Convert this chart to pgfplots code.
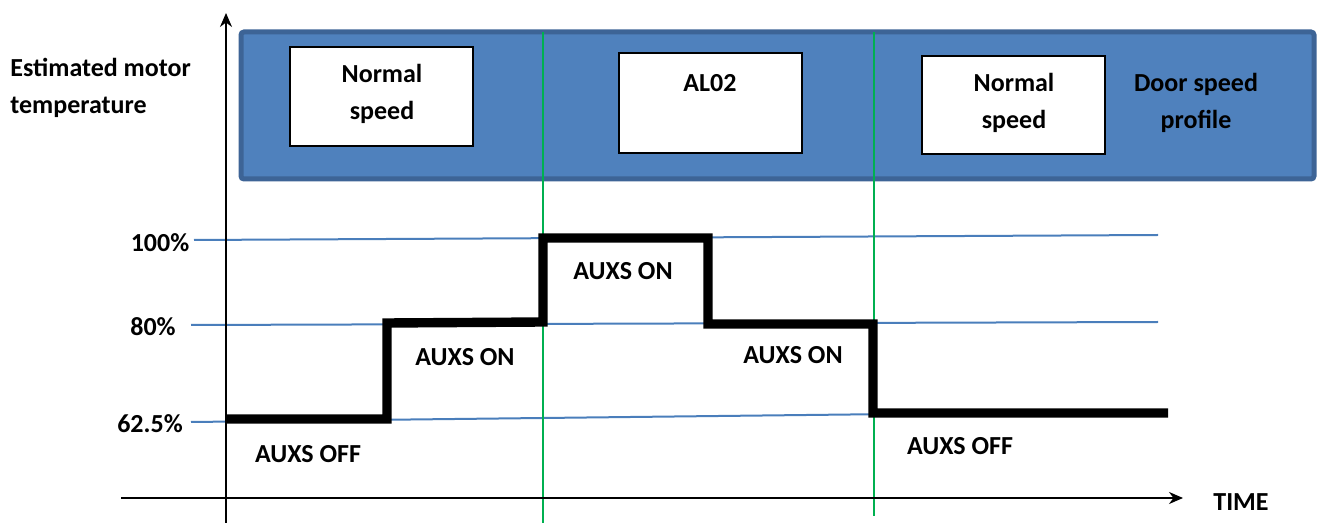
\documentclass[border=0pt]{standalone}
\usepackage{pgfplots}
\pgfplotsset{compat=1.18}
\usepackage{fontspec}
\setmainfont{Carlito}
\usetikzlibrary{arrows.meta}

\definecolor{boxfill}{HTML}{4F81BD}
\definecolor{boxedge}{HTML}{3D6496}
\definecolor{levelblue}{HTML}{4A7EBB}
\definecolor{markgreen}{HTML}{00B050}

\tikzset{lbl/.style={font=\bfseries\fontsize{13}{18.5}\selectfont, text=black, inner sep=0pt}}

\begin{document}
\begin{tikzpicture}
\begin{axis}[
    scale only axis,
    width=658.5pt, height=261.5pt,
    xmin=0, xmax=1317, ymin=0, ymax=523,
    y dir=reverse,
    hide axis,
    clip=false,
]
% door speed profile band
\addplot[fill=boxfill, draw=boxedge, line width=2.5pt, rounded corners=1.5pt]
    coordinates {(241,32) (1314,32) (1314,179) (241,179)} -- cycle;
\addplot[fill=white, draw=black, line width=0.6pt]
    coordinates {(290,47) (473,47) (473,146) (290,146)} -- cycle;
\addplot[fill=white, draw=black, line width=0.6pt]
    coordinates {(619,53) (802,53) (802,153) (619,153)} -- cycle;
\addplot[fill=white, draw=black, line width=0.6pt]
    coordinates {(922,56) (1105,56) (1105,154) (922,154)} -- cycle;

% temperature levels
\addplot[levelblue, line width=1pt] coordinates {(194,240) (1158,235)};
\addplot[levelblue, line width=1pt] coordinates {(191,325) (1158,322)};
\addplot[levelblue, line width=1pt] coordinates {(191,422) (1158,411)};

% phase boundaries
\addplot[markgreen, line width=1pt] coordinates {(543,32) (543,523)};
\addplot[markgreen, line width=1pt] coordinates {(874,32) (874,516)};

% axes
\addplot[black, line width=1pt, -{Stealth[length=7pt, width=6pt]}]
    coordinates {(226,523) (226,13)};
\addplot[black, line width=1pt, -{Stealth[length=7pt, width=6pt]}]
    coordinates {(121,498) (1183,498)};

% estimated temperature profile
\addplot[black, line width=4.7pt, line join=miter]
    coordinates {(226,419) (387,419) (387,323) (543,322) (543,238)
                 (708,238) (708,324) (873,324) (873,413) (1168,413)};

% labels
\node[lbl, anchor=west, align=left] at (axis cs:10,88) {Estimated motor\\temperature};
\node[lbl, align=center] at (axis cs:382,94) {Normal\\speed};
\node[lbl] at (axis cs:710,83) {AL02};
\node[lbl, align=center] at (axis cs:1014,103) {Normal\\speed};
\node[lbl, align=center] at (axis cs:1196,103) {Door speed\\profile};
\node[lbl] at (axis cs:160,243) {100\%};
\node[lbl] at (axis cs:153,327) {80\%};
\node[lbl] at (axis cs:150,424) {62.5\%};
\node[lbl] at (axis cs:308,454) {AUXS OFF};
\node[lbl] at (axis cs:465,357) {AUXS ON};
\node[lbl] at (axis cs:623,271) {AUXS ON};
\node[lbl] at (axis cs:793,355) {AUXS ON};
\node[lbl] at (axis cs:960,446) {AUXS OFF};
\node[lbl] at (axis cs:1241,502) {TIME};
\end{axis}
\pgfresetboundingbox
\path (current axis.south west) rectangle (current axis.north east);
\end{tikzpicture}
\end{document}
